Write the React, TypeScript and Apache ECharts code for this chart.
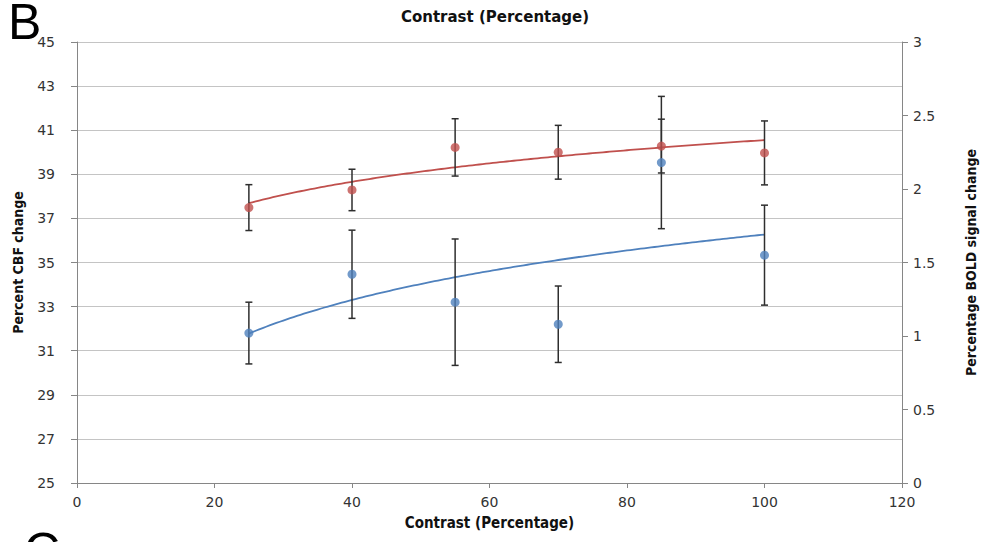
import React, { useEffect, useRef } from "react";
import * as echarts from "echarts";

// Contrast levels (x, percent)
const contrast = [25, 40, 55, 70, 85, 100];
// Percent CBF change (left axis) with error bar half-widths
const cbfChange = [37.49, 38.29, 40.22, 40.0, 40.28, 39.97];
const cbfError = [1.04, 0.94, 1.3, 1.22, 1.22, 1.45];
// Percentage BOLD signal change (right axis) with error bar half-widths
const boldChange = [1.02, 1.42, 1.23, 1.08, 2.18, 1.55];
const boldError = [0.21, 0.3, 0.43, 0.26, 0.45, 0.34];

const RED = "#C0504D";
const BLUE = "#4F81BD";
const BAR = "#2e2e2e";

// Logarithmic trendline (least squares y = a + b ln x), as in the source chart
function logFit(xs: number[], ys: number[]) {
  const lx = xs.map((x) => Math.log(x));
  const n = xs.length;
  const mx = lx.reduce((s, v) => s + v, 0) / n;
  const my = ys.reduce((s, v) => s + v, 0) / n;
  let sxy = 0, sxx = 0;
  for (let i = 0; i < n; i++) {
    sxy += (lx[i] - mx) * (ys[i] - my);
    sxx += (lx[i] - mx) * (lx[i] - mx);
  }
  const b = sxy / sxx;
  const a = my - b * mx;
  return (x: number) => a + b * Math.log(x);
}

function trend(xs: number[], ys: number[]) {
  const f = logFit(xs, ys);
  const lo = Math.min(...xs), hi = Math.max(...xs);
  const pts: number[][] = [];
  for (let x = lo; x <= hi + 1e-9; x += 0.5) pts.push([x, f(x)]);
  return pts;
}

function errorData(vals: number[], errs: number[]) {
  return contrast.map((x, i) => [x, vals[i] - errs[i], vals[i] + errs[i]]);
}

const errorRender = (params: any, api: any) => {
  const x = api.value(0);
  const pLo = api.coord([x, api.value(1)]);
  const pHi = api.coord([x, api.value(2)]);
  const w = 3.5;
  const style = { stroke: BAR, lineWidth: 1.5 };
  return {
    type: "group",
    children: [
      { type: "line", shape: { x1: pHi[0], y1: pHi[1], x2: pLo[0], y2: pLo[1] }, style },
      { type: "line", shape: { x1: pHi[0] - w, y1: pHi[1], x2: pHi[0] + w, y2: pHi[1] }, style },
      { type: "line", shape: { x1: pLo[0] - w, y1: pLo[1], x2: pLo[0] + w, y2: pLo[1] }, style },
    ],
  };
};

const axisGray = "#868686";
const tickFont = { fontFamily: "DejaVu Sans", fontSize: 14, color: "#333" };
const nameFont = {
  fontFamily: "'DejaVu Sans Condensed', 'Liberation Sans Narrow', sans-serif",
  fontWeight: "bold" as const,
  fontSize: 14,
  color: "#111",
};

export default function App() {
  const ref = useRef<HTMLDivElement>(null);
  useEffect(() => {
    if (!ref.current) return;
    const chart = echarts.init(ref.current, undefined, { renderer: "svg" });
    chart.setOption({
      animation: false,
      backgroundColor: "#fff",
      title: {
        text: "Contrast (Percentage)",
        left: 490,
        textAlign: "center",
        top: 4,
        textStyle: { fontFamily: "DejaVu Sans", fontWeight: "bold", fontSize: 15, color: "#111" },
      },
      graphic: [
        { type: "text", left: 8, top: -3, style: { text: "B", fontFamily: "Liberation Sans", fontSize: 50, fill: "#000" } },
        { type: "text", left: 24, top: 526, style: { text: "C", fontFamily: "Liberation Sans", fontSize: 50, fill: "#000" } },
      ],
      grid: { left: 77, right: 82, top: 42, bottom: 59, containLabel: false },
      xAxis: {
        type: "value",
        min: 0,
        max: 120,
        interval: 20,
        name: "Contrast (Percentage)",
        nameLocation: "middle",
        nameGap: 32,
        nameTextStyle: { ...nameFont, fontSize: 15 },
        axisLine: { show: true, lineStyle: { color: axisGray, width: 1 } },
        axisTick: { show: true, length: 5, lineStyle: { color: axisGray } },
        axisLabel: { ...tickFont, margin: 12 },
        splitLine: { show: false },
      },
      yAxis: [
        {
          type: "value",
          min: 25,
          max: 45,
          interval: 2,
          position: "left",
          name: "Percent CBF change",
          nameLocation: "middle",
          nameRotate: 90,
          nameGap: 52,
          nameTextStyle: nameFont,
          axisLine: { show: true, lineStyle: { color: axisGray, width: 1 } },
          axisTick: { show: true, length: 6, lineStyle: { color: axisGray } },
          axisLabel: { ...tickFont, margin: 22 },
          splitLine: { show: true, lineStyle: { color: "#C4C4C4", width: 1 } },
        },
        {
          type: "value",
          min: 0,
          max: 3,
          interval: 0.5,
          position: "right",
          name: "Percentage BOLD signal change",
          nameLocation: "middle",
          nameRotate: 90,
          nameGap: 62,
          nameTextStyle: nameFont,
          axisLine: { show: true, lineStyle: { color: axisGray, width: 1 } },
          axisTick: { show: true, length: 6, lineStyle: { color: axisGray } },
          axisLabel: { ...tickFont, margin: 11 },
          splitLine: { show: false },
        },
      ],
      series: [
        {
          type: "line",
          name: "CBF trend",
          yAxisIndex: 0,
          data: trend(contrast, cbfChange),
          showSymbol: false,
          lineStyle: { color: RED, width: 1.8 },
          z: 2,
        },
        {
          type: "line",
          name: "BOLD trend",
          yAxisIndex: 1,
          data: trend(contrast, boldChange),
          showSymbol: false,
          lineStyle: { color: BLUE, width: 1.8 },
          z: 2,
        },
        {
          type: "custom",
          name: "CBF error",
          yAxisIndex: 0,
          renderItem: errorRender,
          data: errorData(cbfChange, cbfError),
          encode: { x: 0, y: [1, 2] },
          z: 3,
        },
        {
          type: "custom",
          name: "BOLD error",
          yAxisIndex: 1,
          renderItem: errorRender,
          data: errorData(boldChange, boldError),
          encode: { x: 0, y: [1, 2] },
          z: 3,
        },
        {
          type: "scatter",
          name: "CBF",
          yAxisIndex: 0,
          data: contrast.map((x, i) => [x, cbfChange[i]]),
          symbolSize: 9,
          itemStyle: { color: RED },
          z: 4,
        },
        {
          type: "scatter",
          name: "BOLD",
          yAxisIndex: 1,
          data: contrast.map((x, i) => [x, boldChange[i]]),
          symbolSize: 9,
          itemStyle: { color: BLUE },
          z: 4,
        },
      ],
    });
    return () => chart.dispose();
  }, []);
  return (
    <div
      ref={ref}
      style={{ position: "fixed", left: 0, top: 0, width: 986, height: 542 }}
    />
  );
}
